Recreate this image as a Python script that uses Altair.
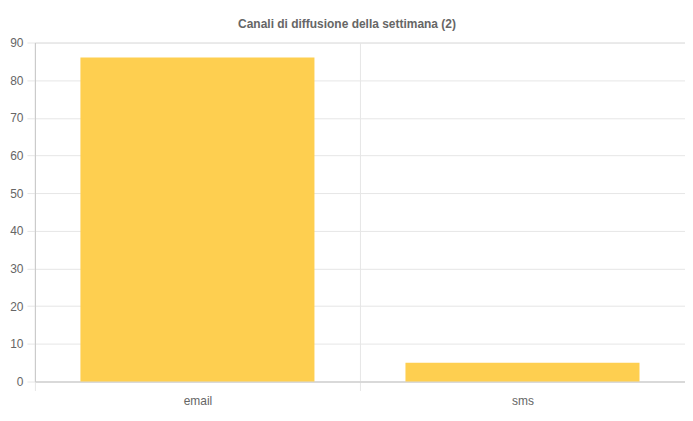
import altair as alt
import pandas as pd

categories = ["email", "sms"]
values = [86, 5]

df = pd.DataFrame({"canale": categories, "valore": values})

grid_color = "#e6e6e6"
axis_color = "#c8c8c8"
text_color = "#666666"
font = "Liberation Sans"

bars = alt.Chart(df).mark_bar(
    color="#FECF50",
    width=alt.RelativeBandSize(0.72),
).encode(
    x=alt.X(
        "canale:N",
        sort=categories,
        title=None,
        scale=alt.Scale(paddingInner=0, paddingOuter=0),
        axis=alt.Axis(
            tickBand="extent",
            grid=True,
            gridColor=grid_color,
            domainColor=axis_color,
            tickColor=grid_color,
            tickSize=9,
            labelAngle=0,
            labelPadding=5,
            labelFont=font,
            labelFontSize=12,
            labelColor=text_color,
        ),
    ),
    y=alt.Y(
        "valore:Q",
        title=None,
        scale=alt.Scale(domain=[0, 90], nice=False),
        axis=alt.Axis(
            values=list(range(0, 91, 10)),
            grid=True,
            gridColor=grid_color,
            domainColor=axis_color,
            tickColor=grid_color,
            tickSize=8,
            labelPadding=4,
            labelFont=font,
            labelFontSize=12,
            labelColor=text_color,
        ),
    ),
)

chart = bars.properties(
    width=652,
    height=340,
    title=alt.TitleParams(
        "Canali di diffusione della settimana (2)",
        font=font,
        fontSize=12,
        fontWeight="bold",
        color=text_color,
        anchor="middle",
        dx=-13,
        offset=6,
    ),
    autosize=alt.AutoSizeParams(type="none"),
    padding={"left": 27, "top": 34, "right": 0, "bottom": 30},
).configure_view(stroke=None).configure(background="white")

chart.save("out.html", embed_options={"renderer": "svg", "actions": False})
